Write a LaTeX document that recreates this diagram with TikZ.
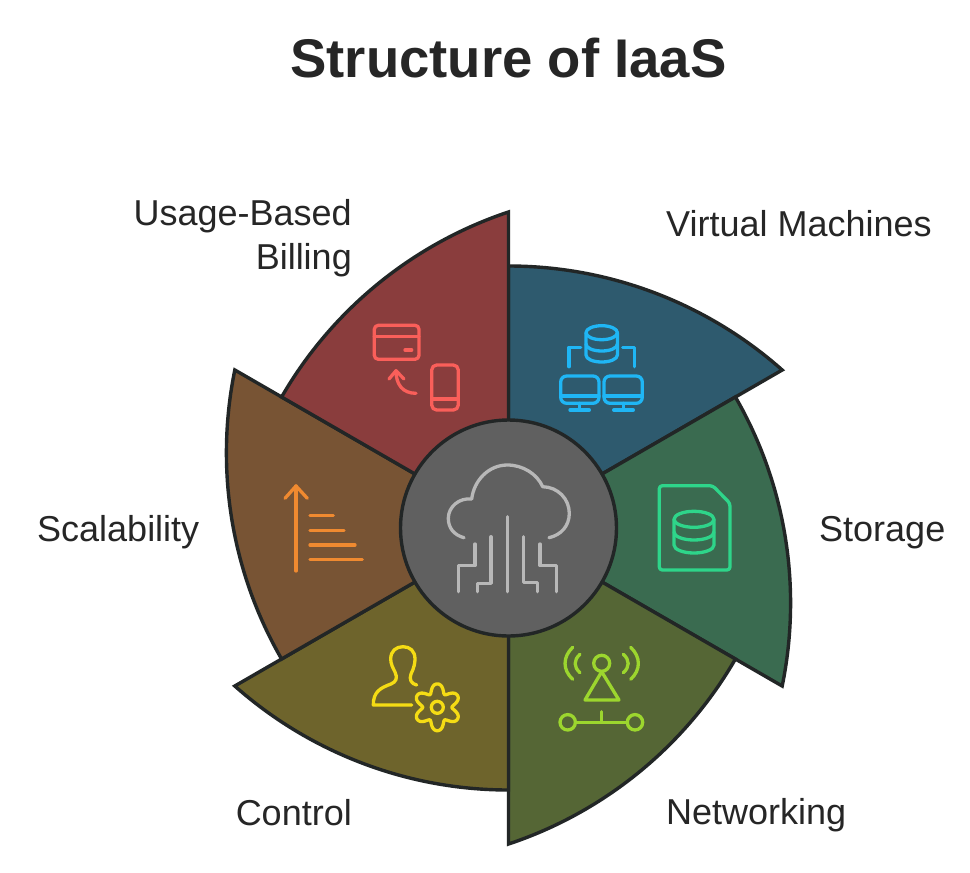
\documentclass[tikz,border=0pt]{standalone}
\usepackage{fontspec}
\setmainfont{Liberation Sans}
\definecolor{edgec}{HTML}{222626}
\definecolor{inkc}{HTML}{262626}
\definecolor{bladeA}{HTML}{2E5A6E}
\definecolor{bladeB}{HTML}{3A6B50}
\definecolor{bladeC}{HTML}{556635}
\definecolor{bladeD}{HTML}{6E642C}
\definecolor{bladeE}{HTML}{785434}
\definecolor{bladeF}{HTML}{8A3D3D}
\definecolor{hubc}{HTML}{606060}
\definecolor{iconA}{HTML}{1FB6F5}
\definecolor{iconB}{HTML}{2ED58A}
\definecolor{iconC}{HTML}{9CD62E}
\definecolor{iconD}{HTML}{F5DC14}
\definecolor{iconE}{HTML}{F08A30}
\definecolor{iconF}{HTML}{FA5F5A}
\definecolor{iconH}{HTML}{B8B8B8}
\tikzset{
  x=1pt,y=-1pt,
  blade/.style={draw=edgec,line width=3.4pt,line join=miter,miter limit=10},
  icon/.style={line width=3.3pt,line cap=round,line join=round},
  label/.style={inner sep=0pt,text=inkc,font=\fontsize{36}{40}\selectfont},
  heading/.style={inner sep=0pt,text=inkc,font=\fontsize{54.5}{60}\selectfont\bfseries},
}
\begin{document}
\begin{tikzpicture}
\useasboundingbox (0,0) rectangle (970,873);
\fill[white] (0,0) rectangle (970,873);
\node[heading,anchor=base] (title) at (508.5,77) {Structure of IaaS};
% blades
\foreach \c [count=\i from 0] in {bladeA,bladeB,bladeC,bladeD,bladeE,bladeF}{
  \begin{scope}[shift={(508.5,528)},rotate=-60*\i]
    \draw[blade,fill=\c] (0,0) -- (0,-262) .. controls (100.8,-262) and (198.3,-224.9) .. (273.7,-158) -- cycle;
  \end{scope}
}
\node[circle,draw=edgec,line width=3.4pt,fill=hubc,minimum size=216pt,inner sep=0pt] (hub) at (508.5,528) {};
% hub icon
\begin{scope}[icon,draw=iconH,color=iconH]
\draw (464,537.7) .. controls (454,535) and (448.3,528) .. (448.3,518.3) .. controls (448.3,507) and (459,497.5) .. (471.7,499) .. controls (474,480) and (489,465) .. (507.3,465) .. controls (523,465) and (537,474) .. (542.7,486.7) .. controls (558,487) and (569.3,499) .. (569.3,513.3) .. controls (569.3,526) and (561,535) .. (549,537.7);
\draw (507.3,516.7) -- (507.3,591.7);
\draw (491,536.7) -- (491,583.3) -- (477.3,583.3) -- (477.3,591.7);
\draw (475,544) -- (475,565.7) -- (458.3,565.7) -- (458.3,591.7);
\draw (523.7,536.7) -- (523.7,582.7) -- (537.3,582.7) -- (537.3,591.7);
\draw (540,544) -- (540,565.7) -- (556.7,565.7) -- (556.7,591.7);
\end{scope}
% virtual machines icon
\begin{scope}[icon,draw=iconA]
\draw (601.7,332.7) ellipse [x radius=15.7,y radius=7];
\draw (586,332.7) -- (586,355) .. controls (586,359) and (593,362) .. (601.7,362) .. controls (610.4,362) and (617.4,359) .. (617.4,355) -- (617.4,332.7);
\draw (586,344) .. controls (586,348) and (593,351) .. (601.7,351) .. controls (610.4,351) and (617.4,348) .. (617.4,344);
\draw (569,366.7) -- (569,347.3) -- (580.7,347.3);
\draw (622.7,347.3) -- (634.3,347.3) -- (634.3,366.7);
\draw[rounded corners=6pt] (560.7,376) rectangle (599,403.3);
\draw (560.7,396) -- (599,396);
\draw (579.7,403.3) -- (579.7,410);
\draw (570,410) -- (589.3,410);
\draw[rounded corners=6pt] (604,376) rectangle (642.3,403.3);
\draw (604,396) -- (642.3,396);
\draw (623.3,403.3) -- (623.3,410);
\draw (613.7,410) -- (633.3,410);
\end{scope}
% storage icon
\begin{scope}[icon,draw=iconB]
\draw[rounded corners=3pt] (659.3,485.7) -- (712.7,485.7) -- (730,503.3) -- (730,570) -- (659.3,570) -- cycle;
\draw (694,519.3) ellipse [x radius=20,y radius=8];
\draw (674,519.3) -- (674,545) .. controls (674,549.5) and (683,553) .. (694,553) .. controls (705,553) and (714,549.5) .. (714,545) -- (714,519.3);
\draw (674,532) .. controls (674,536.5) and (683,540) .. (694,540) .. controls (705,540) and (714,536.5) .. (714,532);
\end{scope}
% networking icon
\begin{scope}[icon,draw=iconC]
\draw (601.7,663.3) circle [radius=8];
\draw (601.7,671.7) -- (585,700) -- (619,700) -- cycle;
\draw (567.7,722.3) circle [radius=7.7];
\draw (635,722.3) circle [radius=7.7];
\draw (575.4,722.3) -- (627.3,722.3);
\draw (601.7,711.7) -- (601.7,722.3);
\draw (572.7,647.3) .. controls (562.5,657) and (562.5,670) .. (572.7,679.3);
\draw (580,654.3) .. controls (573.5,660) and (573.5,667) .. (580,672.7);
\draw (630.7,647.3) .. controls (640.9,657) and (640.9,670) .. (630.7,679.3);
\draw (623.3,654.3) .. controls (629.8,660) and (629.8,667) .. (623.3,672.7);
\end{scope}
% control icon
\begin{scope}[icon,draw=iconD]
\draw (416.7,685) .. controls (411,684) and (409,679) .. (411,674) .. controls (414,668) and (415,663) .. (415,659) .. controls (415,651) and (410,646.7) .. (403,646.7) .. controls (396,646.7) and (390.7,651) .. (390.7,659) .. controls (390.7,664) and (393,668) .. (395,672) .. controls (398,678) and (396,682) .. (391,684) .. controls (380,688) and (373.3,692) .. (373.3,705) -- (411.7,705);
\draw (437.3,707.3) circle [radius=6];
\draw plot[domain=0:360,samples=145,variable=\t] ({437.3+(19.5+4.4*cos(6*\t)-0.5*cos(12*\t))*sin(\t)},{707.3-(19.5+4.4*cos(6*\t)-0.5*cos(12*\t))*cos(\t)}) -- cycle;
\end{scope}
% scalability icon
\begin{scope}[icon,draw=iconE]
\draw (296,571) -- (296,486);
\draw (285,498.3) -- (296,486) -- (307.3,498.3);
\draw (310,515.7) -- (333.3,515.7);
\draw (310,530.3) -- (344,530.3);
\draw (310,545) -- (355,545);
\draw (310,559.3) -- (362.3,559.3);
\end{scope}
% billing icon
\begin{scope}[icon,draw=iconF]
\draw[rounded corners=4pt] (374.3,325.3) rectangle (419,359.3);
\draw (374.3,336.7) -- (419,336.7);
\draw (405,350) -- (411.7,350);
\draw[rounded corners=5pt] (431.7,365) rectangle (458.3,410);
\draw (431.7,399) -- (458.3,399);
\draw (389,379) -- (396,370.7) -- (404,379);
\draw (396,370.7) .. controls (396,385) and (403,393.3) .. (416,393.3);
\end{scope}
% labels
\node[label,anchor=base west] (vm) at (666,236) {Virtual Machines};
\node[label,anchor=base east] (usage) at (352,225) {Usage-Based};
\node[label,anchor=base east] (billing) at (352,269) {Billing};
\node[label,anchor=base west] (storage) at (819,541) {Storage};
\node[label,anchor=base west] (net) at (666,824) {Networking};
\node[label,anchor=base east] (control) at (352,825) {Control};
\node[label,anchor=base west] (scal) at (37,541) {Scalability};
\end{tikzpicture}
\end{document}
